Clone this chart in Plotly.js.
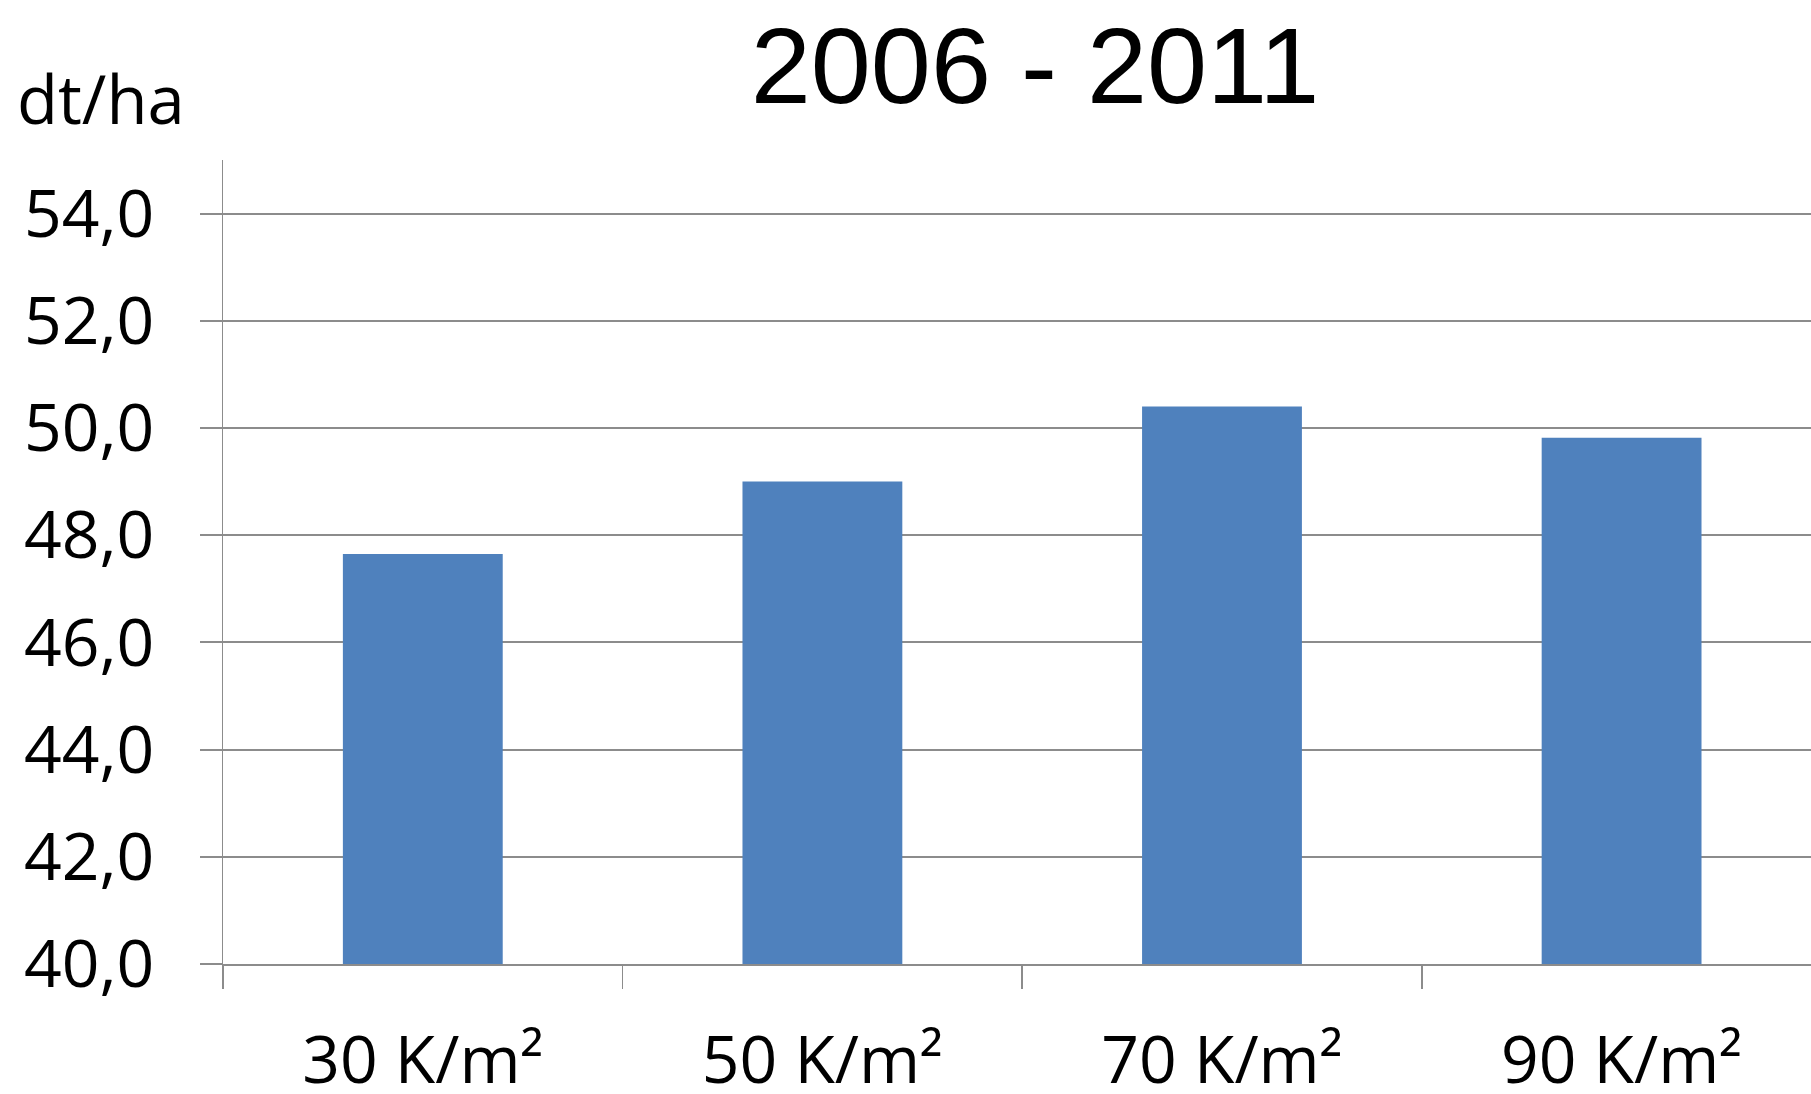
<!DOCTYPE html>
<html>
<head>
<meta charset="utf-8">
<script src="https://cdn.plot.ly/plotly-3.0.1.min.js"></script>
<style>
html,body{margin:0;padding:0;background:#fff;}
#chart{width:1811px;height:1094px;}
</style>
</head>
<body>
<div id="chart"></div>
<script>
const categories = ["30 K/m²", "50 K/m²", "70 K/m²", "90 K/m²"];
const yieldValues = [47.65, 49.0, 50.4, 49.82];
const yTickValues = [40, 42, 44, 46, 48, 50, 52, 54];
const yTickLabels = ["40,0", "42,0", "44,0", "46,0", "48,0", "50,0", "52,0", "54,0"];
const chartTitle = "2006 - 2011";
const unitLabel = "dt/ha";

const trace = {
  type: "bar",
  x: categories,
  y: yieldValues.map(v => v - 40),
  base: 40,
  width: 0.4,
  marker: {color: "#4F81BD"},
  hoverinfo: "skip"
};

const gridColor = "#8c8c8c";
const plotTop = 160, plotBottom = 964.4;
const plotH = plotBottom - plotTop;
const layout = {
  width: 1811,
  height: 1094,
  margin: {l: 223, r: 0, t: plotTop, b: 1094 - plotBottom, pad: 0},
  paper_bgcolor: "#ffffff",
  plot_bgcolor: "#ffffff",
  showlegend: false,
  font: {family: "Open Sans, Noto Sans, sans-serif", color: "#000000"},
  title: {
    text: chartTitle,
    font: {family: "Liberation Sans, Arial, sans-serif", size: 108, color: "#000000"},
    x: 0.5715, xref: "container", xanchor: "center",
    y: 0.94, yref: "container", yanchor: "middle"
  },
  xaxis: {
    type: "category",
    range: [-0.5, 3.474],
    tickson: "boundaries",
    ticks: "outside",
    ticklen: 23,
    tickwidth: 1.5,
    tickcolor: gridColor,
    showline: true,
    linecolor: gridColor,
    linewidth: 2,
    showgrid: false,
    zeroline: false,
    tickfont: {size: 66, family: "Open Sans, sans-serif", color: "#000"},
    ticklabelstandoff: 38,
    fixedrange: true
  },
  yaxis: {
    range: [40, 55],
    tickmode: "array",
    tickvals: yTickValues,
    ticktext: yTickLabels,
    ticks: "outside",
    ticklen: 22,
    tickwidth: 2,
    tickcolor: gridColor,
    showline: true,
    linecolor: gridColor,
    linewidth: 1.5,
    showgrid: true,
    gridcolor: gridColor,
    gridwidth: 2,
    zeroline: false,
    tickfont: {size: 66, family: "Open Sans, sans-serif", color: "#000"},
    ticklabelstandoff: 32,
    fixedrange: true
  },
  annotations: [{
    text: unitLabel,
    xref: "paper", yref: "paper",
    x: (15 - 223) / 1588, xanchor: "left",
    y: (plotBottom - 146) / plotH, yanchor: "bottom",
    showarrow: false,
    font: {size: 67, family: "Open Sans, sans-serif", color: "#000"}
  }]
};

Plotly.newPlot("chart", [trace], layout, {staticPlot: true, displayModeBar: false});
</script>
</body>
</html>
